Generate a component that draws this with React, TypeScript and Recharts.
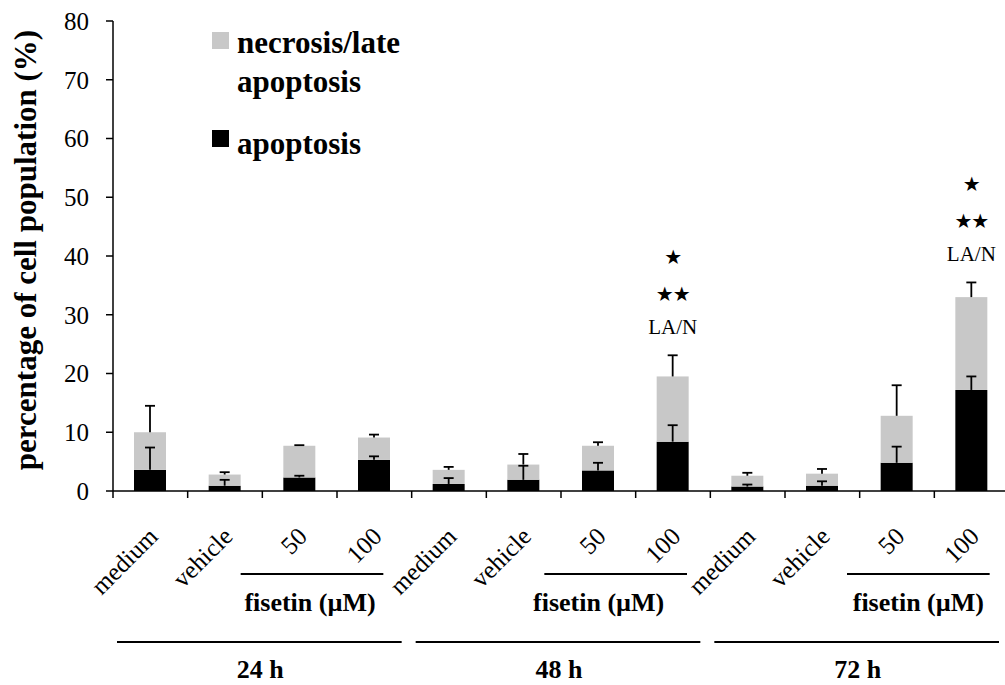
import React from 'react';
import { BarChart, Bar, XAxis, YAxis, Legend } from 'recharts';

// Time points, treatment conditions and the values per bar (mean % of cells)
const timePoints = ['24 h', '48 h', '72 h'];
const conditions = ['medium', 'vehicle', '50', '100'];
const treatmentLabel = 'fisetin (\u00b5M)';

const apoptosis = [3.6, 0.9, 2.3, 5.3, 1.2, 1.9, 3.5, 8.4, 0.75, 0.9, 4.8, 17.2];
const necrosis = [6.4, 1.9, 5.4, 3.8, 2.4, 2.6, 4.2, 11.1, 1.85, 2.05, 8.0, 15.8];
// upper error bars (SD) of the apoptosis segment and of the whole stack
const apoptosisSD = [3.8, 1.0, 0.3, 0.6, 1.0, 2.4, 1.3, 2.8, 0.35, 0.75, 2.75, 2.3];
const totalSD = [4.5, 0.4, 0.1, 0.5, 0.5, 1.8, 0.6, 3.6, 0.5, 0.8, 5.2, 2.5];
// significance marks above a bar, top to bottom
const annotations: string[][] = [[], [], [], [], [], [], [], ['\u2605', '\u2605\u2605', 'LA/N'], [], [], [], ['\u2605', '\u2605\u2605', 'LA/N']];

const yTicks = [0, 10, 20, 30, 40, 50, 60, 70, 80];

const data = apoptosis.map((v, i) => ({
  id: `${timePoints[Math.floor(i / 4)]} ${conditions[i % 4]}`,
  apoptosis: v,
  necrosis: necrosis[i],
  apoSD: apoptosisSD[i],
  totSD: totalSD[i],
  notes: annotations[i],
}));

const SERIF = "'Liberation Serif', 'Times New Roman', serif";
const GRAY = '#c8c8c8';

// hand-placed bracket shifts per time group (line, caption)
const BRACKET_SHIFT = [-5, 0, 4];
const CAPTION_SHIFT = [-2, -17, 0];

// Top segment: grey rect plus both upper error bars and the significance marks
const TopSegment = (props: any) => {
  const { x, y, width, height, payload } = props;
  if (!height || height <= 0) return null;
  const ppu = height / payload.necrosis;
  const cx = x + width / 2;
  const base = y + height;
  const apoTop = base - payload.apoSD * ppu;
  const totTop = y - payload.totSD * ppu;
  const cap = 5;
  const notes: string[] = payload.notes || [];
  const offsets = [-91, -54, -21];
  return (
    <g>
      <rect x={x} y={y} width={width} height={height} fill={GRAY} />
      <g stroke="#000" strokeWidth={1.8}>
        <line x1={cx} y1={base} x2={cx} y2={apoTop} />
        <line x1={cx - cap} y1={apoTop} x2={cx + cap} y2={apoTop} />
        <line x1={cx} y1={y} x2={cx} y2={totTop} />
        <line x1={cx - cap} y1={totTop} x2={cx + cap} y2={totTop} />
      </g>
      {notes.map((t, k) => (
        <text
          key={k}
          x={cx}
          y={totTop + offsets[k]}
          textAnchor="middle"
          fontFamily={t === 'LA/N' ? SERIF : "'DejaVu Sans', sans-serif"}
          fontSize={t === 'LA/N' ? 21 : 20}
          letterSpacing={t === 'LA/N' ? 0 : -1}
          fill="#000"
        >
          {t}
        </text>
      ))}
    </g>
  );
};

// Category tick: boundary tick mark, rotated condition name and group brackets
const CategoryTick = (props: any) => {
  const { x, y, payload, index } = props;
  const half = payload && payload.offset ? payload.offset : 37.33;
  const band = half * 2;
  const k = index % 4;
  const g = Math.floor(index / 4);
  const ax = y;
  const parts: React.ReactNode[] = [];
  parts.push(<line key="t" x1={x - half} y1={ax} x2={x - half} y2={ax + 7} stroke="#000" strokeWidth={1.5} />);
  parts.push(
    <text
      key="l"
      x={x + 9}
      y={ax + 47}
      transform={`rotate(-45 ${x + 9} ${ax + 47})`}
      textAnchor="end"
      fontFamily={SERIF}
      fontSize={25}
      fill="#000"
    >
      {conditions[k]}
    </text>
  );
  if (k === 3) {
    const c100 = x;
    const c50 = x - band;
    const fs = c50 - 54 + BRACKET_SHIFT[g];
    const fe = c100 + 14 + BRACKET_SHIFT[g];
    const groupStart = x - 3.5 * band;
    const groupEnd = x + 0.5 * band;
    parts.push(<line key="fl" x1={fs} y1={ax + 83} x2={fe} y2={ax + 83} stroke="#000" strokeWidth={1.8} />);
    parts.push(
      <text key="ft" x={(fs + fe) / 2 + CAPTION_SHIFT[g]} y={ax + 120} textAnchor="middle" fontFamily={SERIF} fontWeight="bold" fontSize={26} fill="#000">
        {treatmentLabel}
      </text>
    );
    parts.push(<line key="gl" x1={groupStart + 4} y1={ax + 151} x2={groupEnd - 10} y2={ax + 151} stroke="#000" strokeWidth={2} />);
    parts.push(
      <text key="gt" x={(groupStart + groupEnd) / 2 - 2} y={ax + 187} textAnchor="middle" fontFamily={SERIF} fontWeight="bold" fontSize={26} fill="#000">
        {timePoints[g]}
      </text>
    );
  }
  return <g>{parts}</g>;
};

const YTitle = (props: any) => {
  const vb = props.viewBox || { x: 0, y: 21, width: 113, height: 470 };
  const cx = 36;
  const cy = vb.y + vb.height / 2 - 6;
  return (
    <text
      x={cx}
      y={cy}
      transform={`rotate(-90 ${cx} ${cy})`}
      textAnchor="middle"
      fontFamily={SERIF}
      fontWeight="bold"
      fontSize={31}
      fill="#000"
    >
      percentage of cell population (%)
    </text>
  );
};

const LegendBox = (props: any) => {
  const payload: any[] = props.payload || [];
  const byKey = (k: string) => payload.find((p) => p.dataKey === k);
  const nec = byKey('necrosis');
  const apo = byKey('apoptosis');
  return (
    <svg width={420} height={170} style={{ display: 'block' }}>
      <rect x={212} y={32} width={17} height={17} fill={nec ? nec.color : GRAY} />
      <text x={237} y={53} fontFamily={SERIF} fontWeight="bold" fontSize={31} fill="#000">necrosis/late</text>
      <text x={237} y={92} fontFamily={SERIF} fontWeight="bold" fontSize={31} fill="#000">apoptosis</text>
      <rect x={212} y={130} width={17} height={17} fill={apo ? apo.color : '#000'} />
      <text x={237} y={154} fontFamily={SERIF} fontWeight="bold" fontSize={31} fill="#000">apoptosis</text>
    </svg>
  );
};

export default function App() {
  return (
    <div style={{ position: 'absolute', left: 0, top: 0, width: 1005, height: 685, overflow: 'hidden', background: '#fff' }}>
      <BarChart width={1010} height={685} data={data} margin={{ top: 21, right: 1, bottom: 0, left: 0 }} barSize={32}>
        <XAxis
          dataKey="id"
          interval={0}
          height={194}
          tickLine={false}
          tickSize={0}
          tickMargin={0}
          axisLine={{ stroke: '#000', strokeWidth: 1.5 }}
          tick={<CategoryTick />}
        />
        <YAxis
          width={113}
          domain={[0, 80]}
          ticks={yTicks}
          interval={0}
          tickSize={7}
          tickMargin={17}
          axisLine={{ stroke: '#000', strokeWidth: 1.5 }}
          tickLine={{ stroke: '#000', strokeWidth: 1.5 }}
          tick={{ fontFamily: SERIF, fontSize: 25, fill: '#000' }}
          label={<YTitle />}
        />
        <Legend
          layout="horizontal"
          verticalAlign="middle"
          align="center"
          content={<LegendBox />}
          wrapperStyle={{ left: 0, top: 0, width: 420, height: 170 }}
        />
        <Bar dataKey="apoptosis" name="apoptosis" stackId="s" fill="#000" isAnimationActive={false} />
        <Bar dataKey="necrosis" name="necrosis/late apoptosis" stackId="s" fill={GRAY} isAnimationActive={false} shape={<TopSegment />} />
      </BarChart>
    </div>
  );
}
